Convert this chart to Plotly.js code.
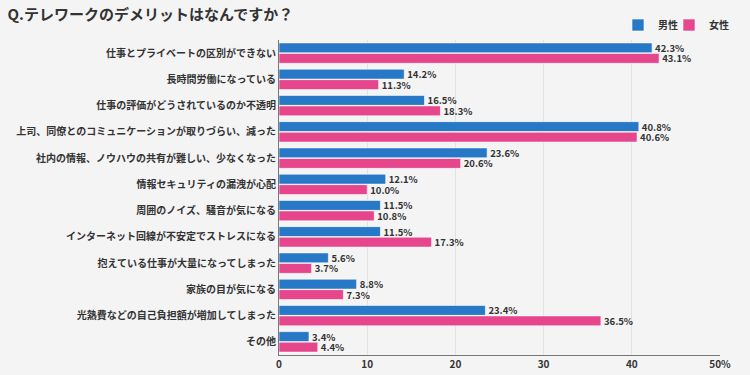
<!DOCTYPE html>
<html><head><meta charset="utf-8">
<script src="https://cdn.plot.ly/plotly-3.0.1.min.js"></script>
<style>body{margin:0;background:#f4f4f4}#c{width:750px;height:375px}</style>
</head><body><div id="c"></div>
<script>
const categories = ["仕事とプライベートの区別ができない","長時間労働になっている","仕事の評価がどうされているのか不透明","上司、同僚とのコミュニケーションが取りづらい、減った","社内の情報、ノウハウの共有が難しい、少なくなった","情報セキュリティの漏洩が心配","周囲のノイズ、騒音が気になる","インターネット回線が不安定でストレスになる","抱えている仕事が大量になってしまった","家族の目が気になる","光熱費などの自己負担額が増加してしまった","その他"];
const male = [42.3,14.2,16.5,40.8,23.6,12.1,11.5,11.5,5.6,8.8,23.4,3.4];
const female = [43.1,11.3,18.3,40.6,20.6,10.0,10.8,17.3,3.7,7.3,36.5,4.4];
const tickVals = [0,10,20,30,40,50];
const tickText = ["0","10","20","30","40","50%"];
const F = '"Noto Sans CJK JP", "Noto Sans", sans-serif';
const mk = (name, vals, color, lg) => ({
  type:'bar', orientation:'h', name:name, y:categories, x:vals, legend:lg,
  marker:{color:color, line:{color:'rgba(255,255,255,0.6)', width:1}},
  text: vals.map(v=>v.toFixed(1)+'%'), textposition:'outside', cliponaxis:false, constraintext:'none',
  textfont:{family:F, size:9.5, color:'#333', weight:'bold'}
});
const data = [mk('男性', male, '#2878c8', 'legend'), mk('女性', female, '#e5468c', 'legend2')];
const lgBase = {orientation:'h', xref:'container', yref:'container', xanchor:'left', yanchor:'middle', y:1-25/375, font:{family:F, size:10, color:'#333', weight:'bold'}, bgcolor:'rgba(0,0,0,0)', itemwidth:30};
const layout = {
  width:750, height:375, paper_bgcolor:'#f4f4f4', plot_bgcolor:'#f4f4f4',
  margin:{l:279, r:30, t:40, b:20},
  font:{family:F, color:'#333', size:10},
  title:{text:'<b>Q.テレワークのデメリットはなんですか？</b>', x:0.01, xanchor:'left', y:0.975, yanchor:'top', font:{family:F, size:15, color:'#333'}},
  barmode:'group', bargap:0.2, bargroupgap:0.05,
  showlegend:true,
  legend:Object.assign({}, lgBase, {x:618/750}),
  legend2:Object.assign({}, lgBase, {x:669/750}),
  xaxis:{range:[0,50], tickvals:tickVals, ticktext:tickText, showgrid:true, gridcolor:'#e2e2e2', zeroline:false, showline:true, linecolor:'#777', linewidth:1, ticks:'', tickfont:{family:F, size:10, color:'#333', weight:'bold'}},
  yaxis:{autorange:'reversed', showline:true, linecolor:'#777', linewidth:1, ticks:'', ticklen:0, tickfont:{family:F, size:10, color:'#333', weight:'bold'}, automargin:false}
};
Plotly.newPlot('c', data, layout, {displayModeBar:false, staticPlot:true});
</script></body></html>
